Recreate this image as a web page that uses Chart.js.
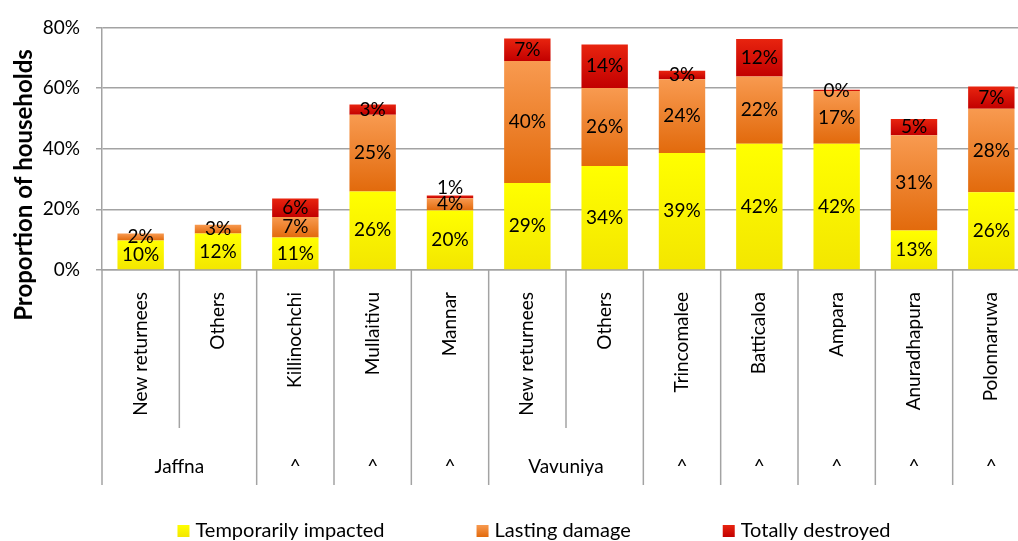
<!DOCTYPE html>
<html>
<head>
<meta charset="utf-8">
<script src="https://cdn.jsdelivr.net/npm/chart.js@4.4.0/dist/chart.umd.min.js"></script>
<style>
html, body { margin: 0; padding: 0; overflow: hidden; background: #fff; }
</style>
</head>
<body>
<canvas id="hhChart" width="1040" height="541"></canvas>
<script>
// categories (inner level) and their districts (outer level, '' = same as left)
var areas = ['New returnees', 'Others', 'Killinochchi', 'Mullaitivu', 'Mannar', 'New returnees',
             'Others', 'Trincomalee', 'Batticaloa', 'Ampara', 'Anuradhapura', 'Polonnaruwa'];
var districts = ['Jaffna', '', '^', '^', '^', 'Vavuniya', '', '^', '^', '^', '^', '^'];

// % of households
var temporarily = [9.7, 12.0, 10.7, 25.9, 19.6, 28.7, 34.3, 38.6, 41.6, 41.6, 13.0, 25.6];
var lasting     = [2.3, 2.9, 6.8, 25.3, 4.1, 40.2, 25.7, 24.3, 22.2, 17.4, 31.4, 27.6];
var destroyed   = [null, null, 6.1, 3.4, 0.9, 7.4, 14.4, 2.8, 12.4, 0.45, 5.4, 7.3];

var seriesNames = ['Temporarily impacted', 'Lasting damage', 'Totally destroyed'];
var yTicks = [0, 20, 40, 60, 80];

var FONT = 'Lato';
var gridGrey = '#a3a3a3';

// gradient per segment, light at top, darker at bottom
function segmentFill(topCol, botCol) {
    return function(c) {
        var chart = c.chart;
        if (c.type !== 'data' || !chart.chartArea) return topCol;
        var y = chart.scales.y;
        var i = c.dataIndex, d = c.datasetIndex;
        var base = 0;
        for (var k = 0; k < d; k++) base += chart.data.datasets[k].data[i] || 0;
        var v = chart.data.datasets[d].data[i] || 0;
        var top = y.getPixelForValue(base + v), bot = y.getPixelForValue(base);
        if (!(bot > top)) return topCol;
        var g = chart.ctx.createLinearGradient(0, top, 0, bot);
        g.addColorStop(0, topCol);
        g.addColorStop(1, botCol);
        return g;
    };
}
var fills = [['#ffff00', '#f3e600'], ['#f89a50', '#e26a0c'], ['#e8240f', '#c20000']];

var segmentLabels = {
    id: 'segmentLabels',
    afterDatasetsDraw: function(chart) {
        var ctx = chart.ctx;
        ctx.save();
        ctx.font = '19px ' + FONT;
        ctx.fillStyle = '#000';
        ctx.textAlign = 'center';
        ctx.textBaseline = 'middle';
        var lastTop = {};
        chart.data.datasets.forEach(function(ds, d) {
            var meta = chart.getDatasetMeta(d);
            meta.data.forEach(function(bar, i) {
                var v = ds.data[i];
                if (v === null || v === undefined) return;
                var cy = (bar.y + bar.base) / 2;
                if (lastTop[i] !== undefined && cy + 8 > lastTop[i]) cy = lastTop[i] - 8;
                ctx.fillText(Math.round(v) + '%', bar.x, cy);
                lastTop[i] = cy - 8;
            });
        });
        ctx.restore();
    }
};

var groupAxis = {
    id: 'groupAxis',
    afterDraw: function(chart) {
        var x = chart.scales.x, ctx = chart.ctx, area = chart.chartArea;
        var half = (x.getPixelForValue(1) - x.getPixelForValue(0)) / 2;
        var innerEnd = area.bottom + 158, outerEnd = area.bottom + 215;
        ctx.save();
        ctx.strokeStyle = gridGrey;
        ctx.lineWidth = 1.5;
        for (var i = 0; i <= areas.length; i++) {
            var px = x.getPixelForValue(0) - half + 2 * half * i;
            var within = i > 0 && i < areas.length && districts[i] === '';
            ctx.beginPath();
            ctx.moveTo(px, area.bottom);
            ctx.lineTo(px, within ? innerEnd : outerEnd);
            ctx.stroke();
        }
        ctx.font = '19px ' + FONT;
        ctx.fillStyle = '#000';
        ctx.textAlign = 'center';
        ctx.textBaseline = 'middle';
        for (i = 0; i < districts.length; i++) {
            if (districts[i] === '') continue;
            var span = 1;
            while (i + span < districts.length && districts[i + span] === '') span++;
            var cx = (x.getPixelForValue(i) + x.getPixelForValue(i + span - 1)) / 2;
            ctx.fillText(districts[i], cx, area.bottom + 197);
        }

        // y title
        ctx.save();
        ctx.translate(24, 185);
        ctx.rotate(-Math.PI / 2);
        ctx.font = 'bold 24px ' + FONT;
        ctx.fillText('Proportion of households', 0, 0);
        ctx.restore();

        // legend
        ctx.font = '20px ' + FONT;
        ctx.textAlign = 'left';
        var gap = 92, box = 12, ly = 531;
        var widths = seriesNames.map(function(n) { return box + 6 + ctx.measureText(n).width; });
        var total = widths.reduce(function(a, b) { return a + b; }, 0) + gap * (widths.length - 1);
        var lx = 534 - total / 2;
        seriesNames.forEach(function(n, k) {
            var g = ctx.createLinearGradient(0, ly - 6, 0, ly + 6);
            g.addColorStop(0, fills[k][0]);
            g.addColorStop(1, fills[k][1]);
            ctx.fillStyle = g;
            ctx.fillRect(lx, ly - 6, box, box);
            ctx.fillStyle = '#000';
            ctx.fillText(n, lx + box + 6, ly);
            lx += widths[k] + gap;
        });
        ctx.restore();
    }
};

var ctx = document.getElementById('hhChart').getContext('2d');
var hhChart = new Chart(ctx, {
    type: 'bar',
    data: {
        labels: areas,
        datasets: [
            { label: seriesNames[0], data: temporarily, backgroundColor: segmentFill(fills[0][0], fills[0][1]) },
            { label: seriesNames[1], data: lasting, backgroundColor: segmentFill(fills[1][0], fills[1][1]) },
            { label: seriesNames[2], data: destroyed, backgroundColor: segmentFill(fills[2][0], fills[2][1]) }
        ]
    },
    options: {
        responsive: false,
        animation: false,
        layout: { padding: { top: 23, right: 10, bottom: 56, left: 0 } },
        datasets: { bar: { barPercentage: 0.6, categoryPercentage: 1, borderWidth: 0 } },
        plugins: { legend: { display: false }, tooltip: { enabled: false } },
        scales: {
            x: {
                stacked: true,
                afterFit: function(s) { s.height = 215; },
                grid: { display: false, drawTicks: false },
                border: { display: true, color: gridGrey, width: 1.5 },
                ticks: {
                    autoSkip: false, minRotation: 90, maxRotation: 90, padding: 22,
                    color: '#000', font: { family: FONT, size: 19 }
                }
            },
            y: {
                stacked: true,
                min: 0, max: 80,
                afterFit: function(s) { s.width = 102; },
                afterBuildTicks: function(s) { s.ticks = yTicks.map(function(v) { return { value: v }; }); },
                grid: { color: gridGrey, lineWidth: 1.5, tickLength: 6 },
                border: { display: true, color: gridGrey, width: 1.5 },
                ticks: {
                    padding: 16, color: '#000', font: { family: FONT, size: 19 },
                    callback: function(v) { return v + '%'; }
                }
            }
        }
    },
    plugins: [segmentLabels, groupAxis]
});
</script>
</body>
</html>
